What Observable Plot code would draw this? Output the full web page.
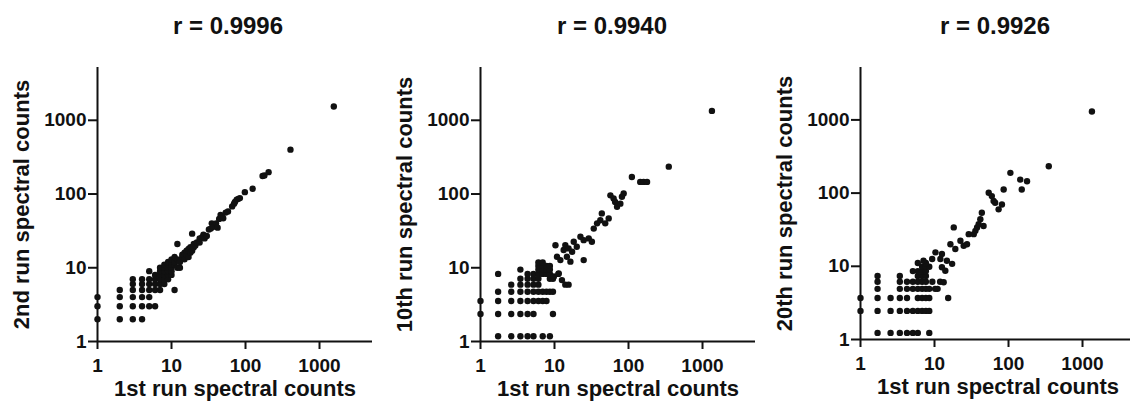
<!DOCTYPE html>
<html>
<head>
<meta charset="utf-8">
<script src="https://cdn.jsdelivr.net/npm/d3@7"></script>
<script src="https://cdn.jsdelivr.net/npm/@observablehq/plot@0.6"></script>
<style>
  html, body { margin: 0; padding: 0; background: #fff; width: 1130px; height: 407px; overflow: hidden; }
  body { position: relative; font-family: "Liberation Sans", Arial, sans-serif; color: #111; }
  .panel { position: absolute; top: 50px; width: 377px; height: 357px; }
  .panel svg { max-width: none !important; }
  .panel svg g[aria-label$="tick label"] { font-size: 19px !important; font-weight: bold; }
  .title { position: absolute; top: 11px; width: 200px; line-height: 30px; text-align: center;
           font-size: 24px; font-weight: bold; color: #111; }
</style>
</head>
<body>
<script>
// ---- Data ----
const TICKS = [1, 10, 100, 1000];
const TITLES = ["r = 0.9996", "r = 0.9940", "r = 0.9926"];
const X_LABEL = "1st run spectral counts";
const Y_LABELS = ["2nd run spectral counts", "10th run spectral counts", "20th run spectral counts"];

// Panel 1: [1st run, 2nd run]
const run2 = [
  [1,2],[1,3],[1,4],
  [2,2],[2,3],[2,4],[2,5],
  [3,2],[3,3],[3,4],[3,5],[3,6],[3,7],
  [4,2],[4,3],[4,4],[4,5],[4,6],[4,7],
  [5,3],[5,4],[5,5],[5,6],[5,7],[5,9],
  [6,3],[6,5],[6,6],[6,7],[6,8],
  [7,5],[7,6],[7,7],[7,8],[7,9],[7,10],
  [8,6],[8,7],[8,8],[8,9],[8,10],[8,11],
  [9,7],[9,8],[9,9],[9,10],[9,11],[9,12],
  [10,8],[10,9],[10,10],[10,11],[10,12],[10,13],
  [11,5],[11,11],[11,12],[11,14],
  [12,10],[12,13],[12,21],[13,10],[13,12],
  [14,14],[14,15],[15,13],[15,16],[16,15],[16,17],[17,14],[17,18],[18,16],[18,19],
  [19,17],[19,29],[20,19],[20,21],[21,20],[22,22],[24,22],[24,25],[26,26],[27,28],
  [28,25],[30,27],[32,33],[34,34],[35,40],[37,36],[40,40],[42,35],[44,46],[46,52],
  [48,50],[50,47],[54,56],[58,58],[66,68],[70,74],[72,78],[76,84],[80,86],[84,88],
  [98,106],[125,118],[170,176],[180,178],[205,198],[405,400],[1560,1540]
];

// Panel 2: [1st run, 10th run]
const run10 = [
  [1.73,1.18],[2.6,1.18],[3.46,1.18],[4.33,1.18],[5.2,1.18],[6.93,1.18],[8.66,1.18],
  [1,2.36],[1.73,2.36],[2.6,2.36],[3.46,2.36],[4.33,2.36],[5.2,2.36],[9.53,2.36],
  [1,3.54],[1.73,3.54],[2.6,3.54],[3.46,3.54],[4.33,3.54],[5.2,3.54],[6.06,3.54],[6.93,3.54],[7.79,3.54],
  [1.73,4.72],[2.6,4.72],[3.46,4.72],[4.33,4.72],[5.2,4.72],[6.06,4.72],[6.93,4.72],[7.79,4.72],[8.66,4.72],[9.53,4.72],
  [2.6,5.9],[3.46,5.9],[4.33,5.9],[5.2,5.9],[6.06,5.9],
  [3.46,7.08],[4.33,7.08],[5.2,7.08],[6.06,7.08],[8.66,7.08],[9.53,7.08],
  [1.73,8.26],[4.33,8.26],[5.2,8.26],[6.06,8.26],[6.93,8.26],[7.79,8.26],[8.66,8.26],[11.3,8.26],
  [3.46,9.44],[6.06,9.44],[6.93,9.44],[7.79,9.44],[8.66,9.44],
  [6.06,10.6],[6.93,10.6],[7.79,10.6],[8.66,10.6],
  [6.06,11.8],[6.93,11.8],
  [9.8,7.6],[10.3,20.2],[11.4,8.4],[12.6,6.8],[14,5.9],[15.5,5.9],[10.8,14.1],[12,12.7],
  [13.3,17.4],[14,20.3],[14.7,14.1],[16.4,12.1],[17.3,16.5],[15.5,18.3],[18.2,22.5],
  [20,19.3],[22.4,26.4],[24.8,23.7],[24.8,12.7],[29,25],[32,22.5],[33.9,34],[37.6,40],
  [41.6,44],[43.6,54.6],[48.5,40],[54,46.7],[56.9,96],[62.9,87],[66,78],[70,67],
  [77.6,74],[81.5,92],[86,102],[111,170],[144,146],[160,146],[178,146],[350,235],[1340,1340]
];

// Panel 3: [1st run, 20th run]
const run20 = [
  [1.7,1.23],[2.55,1.23],[3.4,1.23],[4.25,1.23],[5.1,1.23],[5.95,1.23],[8.5,1.23],
  [1,2.46],[1.7,2.46],[2.55,2.46],[3.4,2.46],[4.25,2.46],[5.1,2.46],[5.95,2.46],[6.8,2.46],[7.65,2.46],[8.5,2.46],
  [1,3.69],[1.7,3.69],[2.55,3.69],[3.4,3.69],[4.25,3.69],[5.95,3.69],[6.8,3.69],[7.65,3.69],[8.5,3.69],[15.3,3.69],
  [1.7,4.92],[3.4,4.92],[4.25,4.92],[5.1,4.92],[5.95,4.92],[6.8,4.92],[7.65,4.92],[8.5,4.92],[10.2,4.92],[11,4.92],
  [1.7,6.15],[3.4,6.15],[4.25,6.15],[5.1,6.15],[5.95,6.15],[6.8,6.15],[7.65,6.15],[9.35,6.15],[11.9,6.15],
  [1.7,7.38],[3.4,7.38],[5.95,7.38],[6.8,7.38],[7.65,7.38],
  [5.1,8.6],[5.95,8.6],[6.8,8.6],[7.65,8.6],
  [6.8,9.84],[7.65,9.84],[8.5,9.84],
  [5.95,11.1],[7.65,11.1],
  [7.1,11.9],[9.3,12.6],[10.3,15.5],[12.6,9.7],[13.3,6.06],[14,8.7],[12,12.6],[12.6,14.7],
  [14.7,11.9],[17.3,10.8],[16.4,20],[18.2,34],[19.1,17.2],[22.4,22.3],[24.8,19.1],
  [27.5,20],[29,27.5],[33.9,27.5],[35.7,30.5],[37.6,34],[39.5,37.5],[41.6,44],[43.6,54],
  [46,35.5],[54,101],[59.5,91],[62.9,78],[66,74],[73.5,60],[81.5,70],[86,112],
  [106,189],[144,153],[151,112],[178,145],[350,233],[1340,1300]
];

const PANELS = [run2, run10, run20];
const PANEL_LEFT = [0, 383, 763];
const TITLE_CENTER = [228, 612, 995];

// ---- Drawing ----
PANELS.forEach((pts, i) => {
  const t = document.createElement("div");
  t.className = "title";
  t.style.left = (TITLE_CENTER[i] - 100) + "px";
  t.textContent = TITLES[i];
  document.body.appendChild(t);

  const chart = Plot.plot({
    width: 377,
    height: 357,
    marginTop: 17,
    marginBottom: i === 2 ? 68 : 66,
    marginLeft: 97,
    marginRight: 5,
    style: { fontFamily: "Liberation Sans, Arial, sans-serif", fontWeight: "bold", color: "#111", background: "transparent", overflow: "visible", maxWidth: "none" },
    x: { type: "log", domain: [1, 5200] },
    y: { type: "log", domain: [1, 5200] },
    marks: [
      Plot.axisX(TICKS, { tickSize: 8, tickPadding: 9, tickFormat: d => String(d), fontSize: 19, fontWeight: "bold", strokeWidth: 2, label: null }),
      Plot.axisY(TICKS, { tickSize: 9, tickPadding: 2, tickFormat: d => String(d), fontSize: 19, fontWeight: "bold", strokeWidth: 2, label: null }),
      Plot.ruleY([1], { stroke: "#111", strokeWidth: 2 }),
      Plot.ruleX([1], { stroke: "#111", strokeWidth: 2 }),
      Plot.dot(pts, { x: d => d[0], y: d => d[1], r: 3.2, fill: "#111", stroke: null }),
      Plot.text([X_LABEL], { text: d => d, frameAnchor: "bottom", dy: 54, fontSize: 22, fontWeight: "bold", fill: "#111" }),
      Plot.text([Y_LABELS[i]], { text: d => d, frameAnchor: "left", textAnchor: "middle", dx: -76, rotate: -90, fontSize: 22, fontWeight: "bold", fill: "#111" })
    ]
  });
  const wrap = document.createElement("div");
  wrap.className = "panel";
  wrap.style.left = PANEL_LEFT[i] + "px";
  wrap.appendChild(chart);
  document.body.appendChild(wrap);
});
</script>
</body>
</html>
